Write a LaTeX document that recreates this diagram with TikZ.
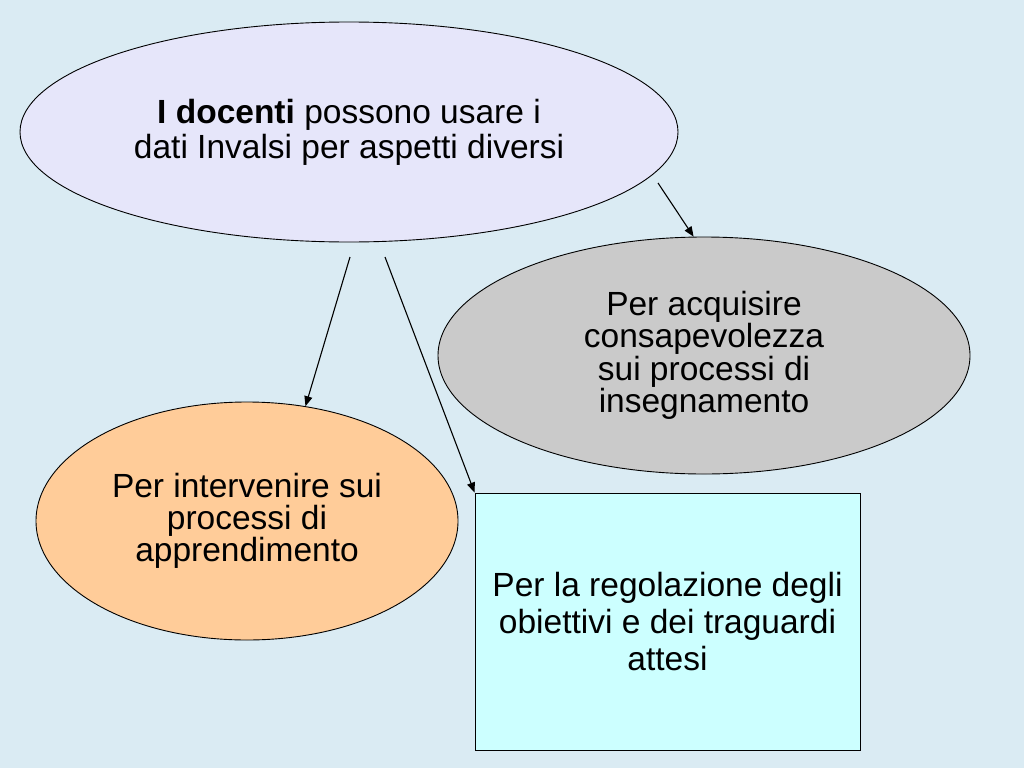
\documentclass[tikz,border=0pt]{standalone}
\usepackage{fontspec}
\setmainfont{Liberation Sans}
\usetikzlibrary{shapes.geometric,arrows.meta}
\definecolor{bgc}{HTML}{DAEBF3}
\definecolor{lav}{HTML}{E6E6FA}
\definecolor{grayf}{HTML}{CACACA}
\definecolor{orangef}{HTML}{FFCC99}
\definecolor{cyanf}{HTML}{CCFFFF}
\tikzset{
  oval/.style={ellipse, draw=black, line width=0.9pt, inner sep=0pt, align=center},
  boxr/.style={rectangle, draw=black, line width=0.9pt, inner sep=0pt, align=center},
  conn/.style={draw=black, line width=1.1pt, -{Triangle[length=10pt,width=8pt]}},
}
\begin{document}
\begin{tikzpicture}[x=1pt,y=-1pt]
\useasboundingbox (0,0) rectangle (1024,768);
\fill[bgc] (0,0) rectangle (1024,768);
\node[oval, fill=lav, minimum width=658pt, minimum height=220pt,
  font=\fontsize{33.5}{35}\selectfont] (top) at (349,132)
  {\textbf{I docenti} possono usare i\\dati Invalsi per aspetti diversi};
\node[oval, fill=grayf, minimum width=532pt, minimum height=237pt,
  font=\fontsize{33.5}{32.5}\selectfont] (acq) at (704,355.5)
  {Per acquisire\\consapevolezza\\sui processi di\\insegnamento};
\node[oval, fill=orangef, minimum width=422pt, minimum height=238pt,
  font=\fontsize{33.5}{32}\selectfont] (int) at (247,521)
  {Per intervenire sui\\processi di\\apprendimento};
\node[boxr, fill=cyanf, minimum width=385pt, minimum height=257pt,
  font=\fontsize{33.5}{37}\selectfont] (reg) at (667.5,621.5)
  {Per la regolazione degli\\obiettivi e dei traguardi\\attesi};
\coordinate (s1) at (350,257);
\coordinate (s2) at (385,257);
\coordinate (s3) at (658,183);
\draw[conn] (s1) -- (int.63.6);
\draw[conn] (s2) -- (reg.north west);
\draw[conn] (s3) -- (acq.95.3);
\end{tikzpicture}
\end{document}
